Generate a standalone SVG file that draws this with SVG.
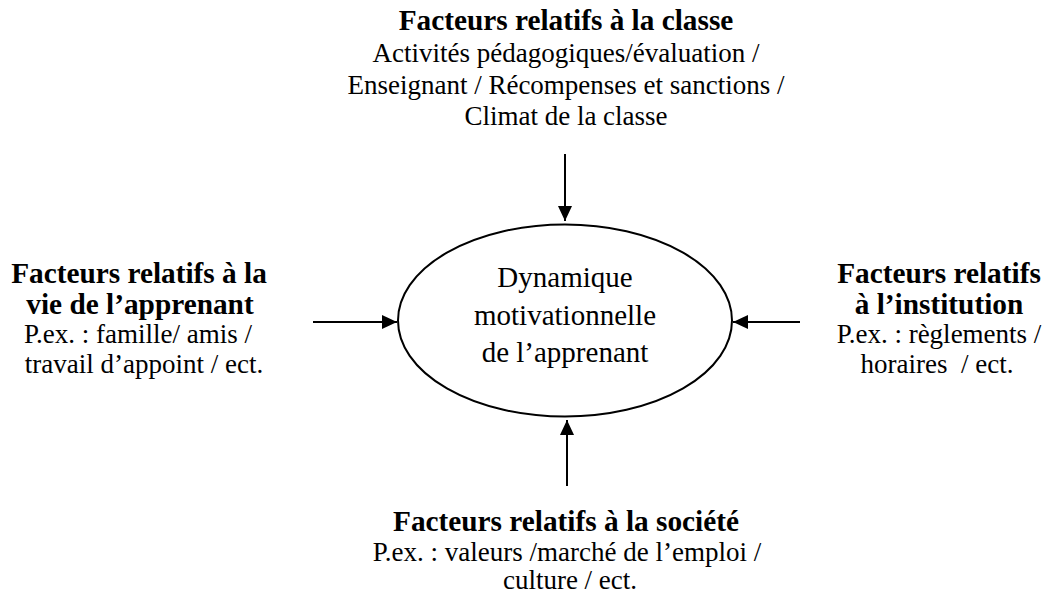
<svg xmlns="http://www.w3.org/2000/svg" width="1043" height="596" viewBox="0 0 1043 596">
<defs>
<style>
text{fill:#000;text-anchor:middle}
.b{font-weight:bold;font-size:29.3px}
.r{font-size:27px}
.c{font-size:29px}
.ln{stroke:#000;stroke-width:2;fill:none}
</style>
<marker id="ah" viewBox="0 0 15 14" refX="15" refY="7" markerWidth="15" markerHeight="14" markerUnits="userSpaceOnUse" orient="auto">
<path d="M0,0 L15,7 L0,14 z" fill="#000"/>
</marker>
</defs>
<rect width="1043" height="596" fill="#fff"/>
<g id="connectors">
<line class="ln" x1="565" y1="154" x2="565" y2="221" marker-end="url(#ah)"/>
<line class="ln" x1="567" y1="486" x2="567" y2="420" marker-end="url(#ah)"/>
<line class="ln" x1="313" y1="322" x2="397" y2="322" marker-end="url(#ah)"/>
<line class="ln" x1="800" y1="322" x2="733" y2="322" marker-end="url(#ah)"/>
</g>
<g font-family="Liberation Serif, Times New Roman, DejaVu Serif, serif">
<g id="center">
<ellipse class="ln" cx="565" cy="320.5" rx="167" ry="96"/>
<text class="c" x="565" y="287">Dynamique</text>
<text class="c" x="565" y="325">motivationnelle</text>
<text class="c" x="565" y="362">de l’apprenant</text>
</g>
<g id="classe">
<text class="b" x="566" y="30">Facteurs relatifs à la classe</text>
<text class="r" x="566" y="62">Activités pédagogiques/évaluation /</text>
<text class="r" x="566" y="94">Enseignant / Récompenses et sanctions /</text>
<text class="r" x="566" y="125">Climat de la classe</text>
</g>
<g id="vie">
<text class="b" x="139" y="283">Facteurs relatifs à la</text>
<text class="b" x="140" y="314">vie de l’apprenant</text>
<text class="r" x="138" y="343">P.ex. : famille/ amis /</text>
<text class="r" x="144" y="373">travail d’appoint / ect.</text>
</g>
<g id="institution">
<text class="b" x="939" y="283">Facteurs relatifs</text>
<text class="b" x="939" y="314">à l’institution</text>
<text class="r" x="939" y="343">P.ex. : règlements /</text>
<text class="r" x="937" y="373" xml:space="preserve">horaires  / ect.</text>
</g>
<g id="societe">
<text class="b" x="566" y="531">Facteurs relatifs à la société</text>
<text class="r" x="567" y="561">P.ex. : valeurs /marché de l’emploi /</text>
<text class="r" x="570" y="589">culture / ect.</text>
</g>
</g>
</svg>
